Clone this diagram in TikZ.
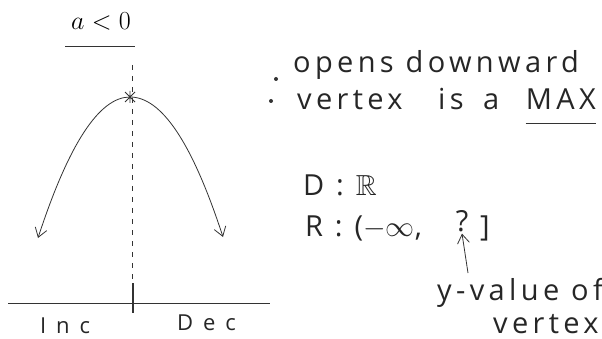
\RequirePackage{fix-cm}
\documentclass[tikz,border=0pt]{standalone}
\usepackage{amssymb}
\usepackage{fontspec}
\newfontfamily\hand[LetterSpace=15]{Open Sans}
\newfontfamily\handwide[LetterSpace=45]{Open Sans}
\usetikzlibrary{arrows.meta}
\tikzset{
  ink/.style={draw=black!80, line width=0.8pt},
  txt/.style={inner sep=0pt, anchor=base west, text=black!85},
  big/.style={txt, font=\hand\fontsize{29}{34}\selectfont},
  mid/.style={txt, font=\handwide\fontsize{22}{26}\selectfont},
  dot/.style={circle, fill=black!80, inner sep=0pt, minimum size=4pt},
  >={Straight Barb[length=9pt,width=12pt]}
}
\begin{document}
\begin{tikzpicture}[x=1pt,y=-1pt]
\useasboundingbox (0,0) rectangle (602,339);
% title
\node[inner sep=0pt, anchor=base, font=\fontsize{26}{30}\selectfont] (title) at (101,30) {$a<0$};
\draw[ink] (65,46) -- (135,46);
% axes
\coordinate (atop) at (132,65);
\coordinate (abot) at (132,292);
\draw[ink, dash pattern=on 5pt off 6pt, line width=0.6pt] (atop) -- (abot);
\coordinate (xl) at (8,303);
\coordinate (xr) at (270,303);
\draw[ink] (xl) -- (xr);
\coordinate (tt) at (133,283);
\coordinate (tb) at (133,313);
\draw[ink, line width=1.4pt] (tt) -- (tb);
% parabola
\coordinate (v) at (130,97);
\coordinate (le) at (38,238);
\coordinate (re) at (223,237);
\draw[ink, <->] (le) .. controls (68.7,144) and (99.3,97) .. (v)
   .. controls (161.7,97) and (192.3,143) .. (re);
\draw[ink] (125,92) -- (135,102) (125,102) -- (135,92) (130,91) -- (130,103);
% Inc / Dec
\node[mid] (inc) at (40,333) {Inc};
\node[mid] (dec) at (177,330) {Dec};
% bullets
\node[dot] (b1) at (276,79) {};
\node[big] (t1) at (293,73) {opens downward};
\node[dot] (b2) at (271,101) {};
\node[big] (t2) at (297,110) {vertex};
\node[big] (t3) at (438,110) {is};
\node[big] (t4) at (483,110) {a};
\node[big, anchor=base east] (max) at (596,110) {MAX};
\draw[ink] ([yshift=-13pt]max.base west) -- ([yshift=-13pt]max.base east);
% domain / range
\node[big] (dom) at (303,196) {D : $\mathbb{R}$};
\node[big] (rng) at (305,236) {R : ($-\infty$,};
\node[big, anchor=base] (q) at (462,231) {?};
\node[big] (rb) at (480,236) {]};
\node[big] (yv) at (437,300) {y-value of};
\node[big] (vx) at (493,333) {vertex};
\coordinate (as) at (468,273);
\draw[ink, ->] (as) -- ([yshift=-2pt]q.south);
\end{tikzpicture}
\end{document}
